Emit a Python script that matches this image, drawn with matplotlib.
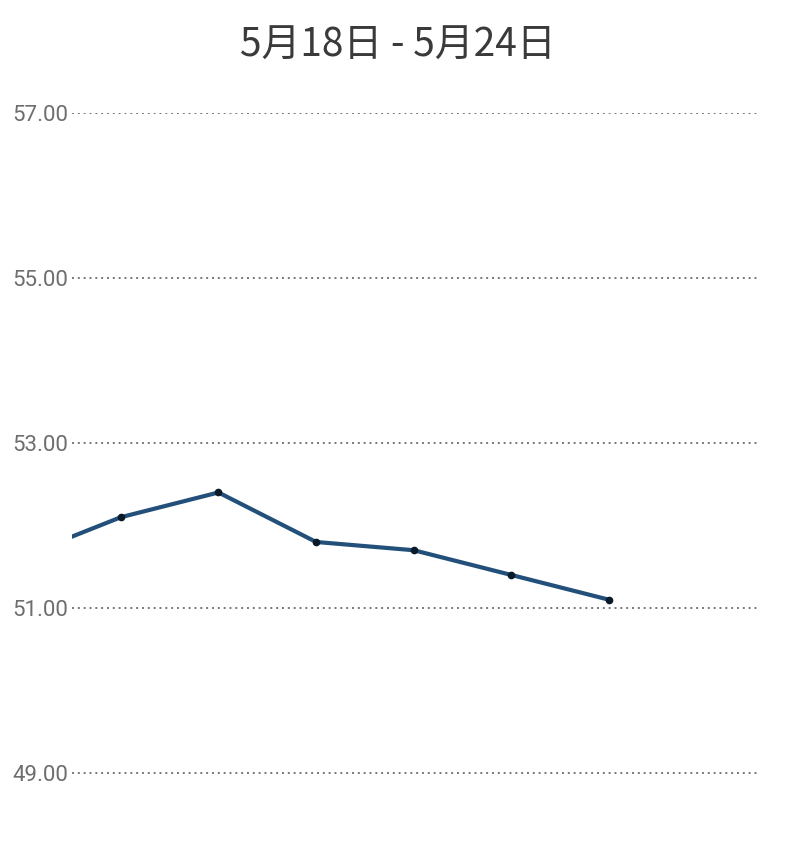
import matplotlib.pyplot as plt

# data
days = ['5/17', '5/18', '5/19', '5/20', '5/21', '5/22', '5/23']
weight = [51.63, 52.1, 52.4, 51.8, 51.7, 51.4, 51.1]
yticks = [49, 51, 53, 55, 57]
title = '5月18日 - 5月24日'

plt.rcParams['font.family'] = ['Roboto', 'Noto Sans CJK SC', 'DejaVu Sans']

fig = plt.figure(figsize=(8, 8.59), dpi=100)
ax = fig.add_axes([0.09, 0.0233, 0.858, 0.8452])

x = list(range(len(days)))
ax.plot(x, weight, color='#22507a', lw=3, zorder=3, solid_capstyle='butt')
ax.plot(x, weight, 'o', color='#0b1a28', ms=4.5, zorder=4)

ax.set_xlim(0.5, 7.53)
ax.set_ylim(48.2, 57)
ax.set_yticks(yticks)
ax.set_yticklabels(['%.2f' % v for v in yticks], color='#6e6e6e', fontsize=16)
ax.set_xticks([])
ax.tick_params(axis='y', length=0, pad=3)
for s in ax.spines.values():
    s.set_visible(False)
ax.grid(axis='y', color='#777777', lw=1.4, linestyle=(0, (1, 2)))
ax.set_axisbelow(True)

fig.text(0.497, 0.947, title, ha='center', va='center', fontsize=28,
         color='#3a3a3a', family=['Noto Sans CJK SC', 'DejaVu Sans'])

plt.savefig('out.png', dpi=100)
